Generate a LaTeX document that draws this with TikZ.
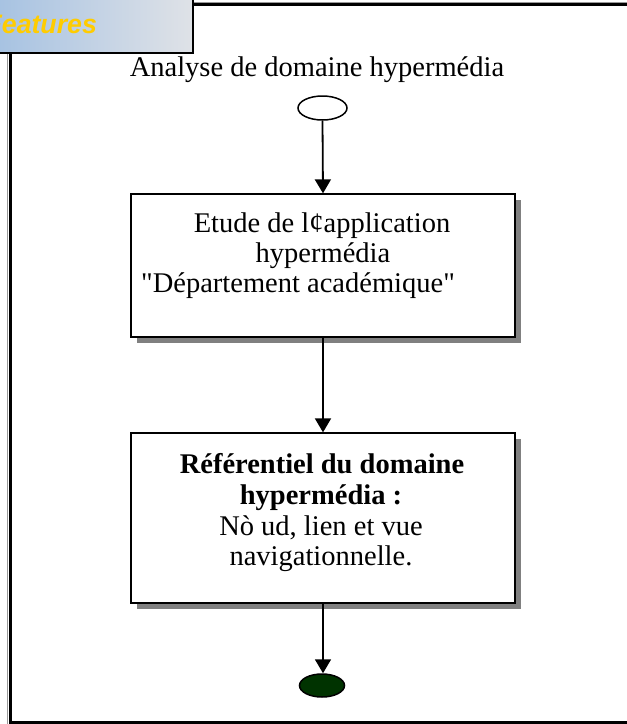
\documentclass[tikz,border=0pt]{standalone}
\usepackage{fontspec}
\setmainfont{Liberation Serif}
\newfontfamily\tabfont{Liberation Sans}
\usetikzlibrary{shapes.geometric,arrows.meta,shadows}
\definecolor{tabblue}{HTML}{A6C2E2}
\definecolor{tabgrey}{HTML}{DFE2E7}
\definecolor{tabyellow}{HTML}{FFCC00}
\definecolor{endgreen}{HTML}{003300}
% straight double quote, taken by glyph name so the TeX mapping leaves it alone
\newcommand{\sq}{\XeTeXglyph\XeTeXglyphindex "quotedbl"\relax}
\tikzset{
  bodytext/.style={font=\fontsize{28.5}{34}\selectfont, inner sep=0pt, anchor=base},
  stepbox/.style={draw, line width=1.3pt, fill=white, rectangle, inner sep=0pt,
    minimum width=384pt,
    drop shadow={shadow xshift=6pt, shadow yshift=-6pt, fill=black!50, opacity=1}},
  terminal/.style={draw, line width=1.5pt, ellipse, inner sep=0pt},
  flow/.style={line width=1.8pt, -{Triangle[length=14pt,width=16pt]}},
  frameline/.style={line width=2.6pt},
}
\begin{document}
\begin{tikzpicture}[x=1pt,y=-1pt]
\useasboundingbox (0,0) rectangle (627,724);
\clip (0,0) rectangle (627,724);

% outer frame, with a thin grey edge outside the black line
\draw[black!40, line width=1pt] (7.8,53) -- (7.8,724);
\draw[black!40, line width=1pt] (193,2.2) -- (630,2.2);
\draw[frameline] (10.5,53) -- (10.5,722.5) -- (630,722.5);
\draw[frameline] (193,4.5) -- (630,4.5);

% title tab
\shade[left color=tabblue, right color=tabgrey] (-5,-5) rectangle (193,53);
\draw[frameline] (-5,53) -- (193,53) -- (193,-5);
\node[font=\tabfont\bfseries\itshape\fontsize{26.7}{32}\selectfont, text=tabyellow,
      inner sep=0pt, anchor=base west] (tab) at (-14.6,33.3) {Features};

% heading
\node[bodytext] (title) at (317,76) {Analyse de domaine hypermédia};

% start and end states
\node[terminal, minimum width=49pt, minimum height=24pt] (start) at (322.5,108) {};
\node[terminal, fill=endgreen, minimum width=45pt, minimum height=23pt] (stop) at (322,685.5) {};

% activity boxes
\node[stepbox, minimum height=143pt] (study) at (323,265.5) {};
\node[stepbox, minimum height=170pt] (ref) at (323,518) {};

% box texts
\node[bodytext] (s1) at (322,232) {Etude de lȼapplication};
\node[bodytext] (s2) at (323,262) {hypermédia};
\node[bodytext, anchor=base west] (s3) at (141,292) {\sq Département académique\sq};

\node[bodytext, font=\fontsize{28.5}{34}\selectfont\bfseries] (r1) at (322,473) {Référentiel du domaine};
\node[bodytext, font=\fontsize{28.5}{34}\selectfont\bfseries] (r2) at (321,504) {hypermédia :};
\node[bodytext] (r3) at (321,535) {Nò ud, lien et vue};
\node[bodytext] (r4) at (321,565) {navigationnelle.};

% control flow
\draw[flow] (start.south) -- (study.north);
\draw[flow] (study.south) -- (ref.north);
\draw[flow] (ref.south) -- (ref.south |- stop.north);
\end{tikzpicture}
\end{document}
